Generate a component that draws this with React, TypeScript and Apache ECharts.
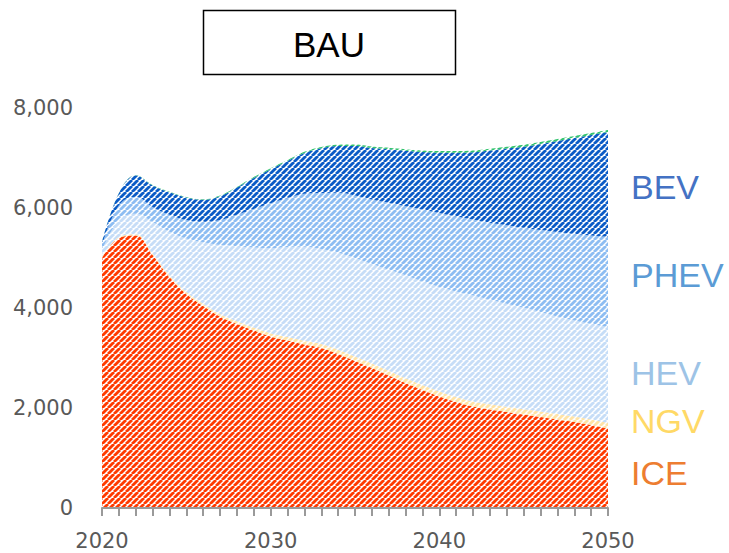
import React, { useEffect, useRef } from "react";
import * as echarts from "echarts";

const years = [
  "2020", "2021", "2022", "2023", "2024", "2025", "2026", "2027", "2028", "2029",
  "2030", "2031", "2032", "2033", "2034", "2035", "2036", "2037", "2038", "2039",
  "2040", "2041", "2042", "2043", "2044", "2045", "2046", "2047", "2048", "2049", "2050",
];

const ice = [5000, 5400, 5450, 5060, 4620, 4280, 4040, 3830, 3680, 3550, 3430, 3350, 3270, 3200, 3080, 2940, 2800, 2650, 2500, 2360, 2230, 2120, 2030, 1970, 1920, 1870, 1820, 1770, 1720, 1660, 1590];
const ngv = [20, 20, 25, 30, 35, 40, 45, 50, 55, 60, 65, 70, 75, 80, 85, 90, 90, 95, 95, 100, 100, 100, 100, 105, 105, 105, 110, 110, 110, 110, 110];
const hev = [130, 330, 410, 630, 870, 1070, 1230, 1380, 1500, 1600, 1700, 1800, 1880, 1900, 1940, 1970, 1990, 2020, 2060, 2070, 2090, 2110, 2120, 2090, 2060, 2030, 1990, 1950, 1920, 1910, 1920];
const phev = [100, 300, 340, 300, 340, 370, 410, 500, 630, 770, 900, 980, 1060, 1120, 1200, 1250, 1290, 1340, 1380, 1440, 1480, 1500, 1520, 1540, 1570, 1600, 1640, 1690, 1730, 1770, 1800];
const bev = [65, 245, 425, 430, 450, 450, 440, 475, 545, 620, 680, 740, 815, 895, 935, 990, 1030, 1070, 1110, 1150, 1205, 1275, 1345, 1445, 1535, 1620, 1720, 1820, 1920, 2010, 2100];
const fcev = [5, 5, 5, 10, 10, 10, 10, 15, 15, 20, 20, 20, 25, 25, 25, 30, 30, 30, 30, 30, 35, 35, 35, 35, 35, 40, 40, 40, 40, 40, 40];

const seriesNames = ["ICE", "NGV", "HEV", "PHEV", "BEV", "FCEV"];
const seriesData = [ice, ngv, hev, phev, bev, fcev];
const stripeColors = ["#FF3A00", "#FFE3A6", "#C6DDF7", "#8DBDF2", "#0A5BC6", "#33C46E"];

const labelTexts = ["BEV", "PHEV", "HEV", "NGV", "ICE"];
const labelColors = ["#4472C4", "#5B9BD5", "#9DC3E6", "#FFD966", "#ED7D31"];
const labelY = [187, 275, 373, 421, 473];

const yTicks = { min: 0, max: 8000, interval: 2000 };

function stripe(color: string) {
  const s = 6;
  const c = document.createElement("canvas");
  c.width = s;
  c.height = s;
  const ctx = c.getContext("2d")!;
  ctx.fillStyle = "#ffffff";
  ctx.fillRect(0, 0, s, s);
  ctx.strokeStyle = color;
  ctx.lineWidth = 2.8;
  for (let k = -1; k <= 1; k++) {
    ctx.beginPath();
    ctx.moveTo(k * s, s);
    ctx.lineTo(k * s + s, 0);
    ctx.stroke();
  }
  return { image: c, repeat: "repeat" };
}

export default function App() {
  const ref = useRef<HTMLDivElement>(null);
  useEffect(() => {
    const chart = echarts.init(ref.current!, undefined, { renderer: "svg" });
    const option: any = {
      animation: false,
      grid: { left: 102, right: 121, top: 108, bottom: 45, containLabel: false },
      xAxis: {
        type: "category",
        data: years,
        boundaryGap: false,
        z: 10,
        axisLine: { show: true, onZero: false, lineStyle: { color: "#9A9A9A", width: 2, opacity: 1 } },
        axisTick: {
          show: true,
          interval: 0,
          inside: false,
          length: 8,
          lineStyle: { color: "#9A9A9A", width: 2, opacity: 1 },
        },
        axisLabel: {
          interval: (i: number) => i % 10 === 0,
          margin: 22,
          color: "#595959",
          fontFamily: "DejaVu Sans",
          fontSize: 21,
        },
        splitLine: { show: false },
      },
      yAxis: {
        type: "value",
        min: yTicks.min,
        max: yTicks.max,
        interval: yTicks.interval,
        axisLine: { show: false },
        axisTick: { show: false },
        splitLine: { show: false },
        axisLabel: {
          margin: 29,
          color: "#595959",
          fontFamily: "DejaVu Sans",
          fontSize: 21,
          formatter: (v: number) => v.toLocaleString("en-US"),
        },
      },
      series: seriesNames.map((name, i) => ({
        name,
        type: "line",
        stack: "total",
        data: seriesData[i],
        smooth: 0.4,
        showSymbol: false,
        symbol: "none",
        lineStyle: { width: 0, opacity: 0 },
        areaStyle: { color: stripe(stripeColors[i]), opacity: 1 },
      })),
      graphic: [
        {
          type: "rect",
          shape: { x: 203.5, y: 10.5, width: 252, height: 64 },
          style: { fill: "#ffffff", stroke: "#000000", lineWidth: 1.5 },
        },
        {
          type: "text",
          x: 329,
          y: 44,
          style: {
            text: "BAU",
            fill: "#000000",
            font: '35px "Liberation Sans", Arial, sans-serif',
            textAlign: "center",
            textVerticalAlign: "middle",
          },
        },
        ...labelTexts.map((t, i) => ({
          type: "text",
          x: 631,
          y: labelY[i],
          style: {
            text: t,
            fill: labelColors[i],
            font: '34px "Liberation Sans", Arial, sans-serif',
            textAlign: "left",
            textVerticalAlign: "middle",
          },
        })),
      ],
    };
    chart.setOption(option);
    return () => chart.dispose();
  }, []);
  return (
    <div
      ref={ref}
      style={{ position: "fixed", left: 0, top: 0, width: 729, height: 553, background: "#ffffff" }}
    />
  );
}
